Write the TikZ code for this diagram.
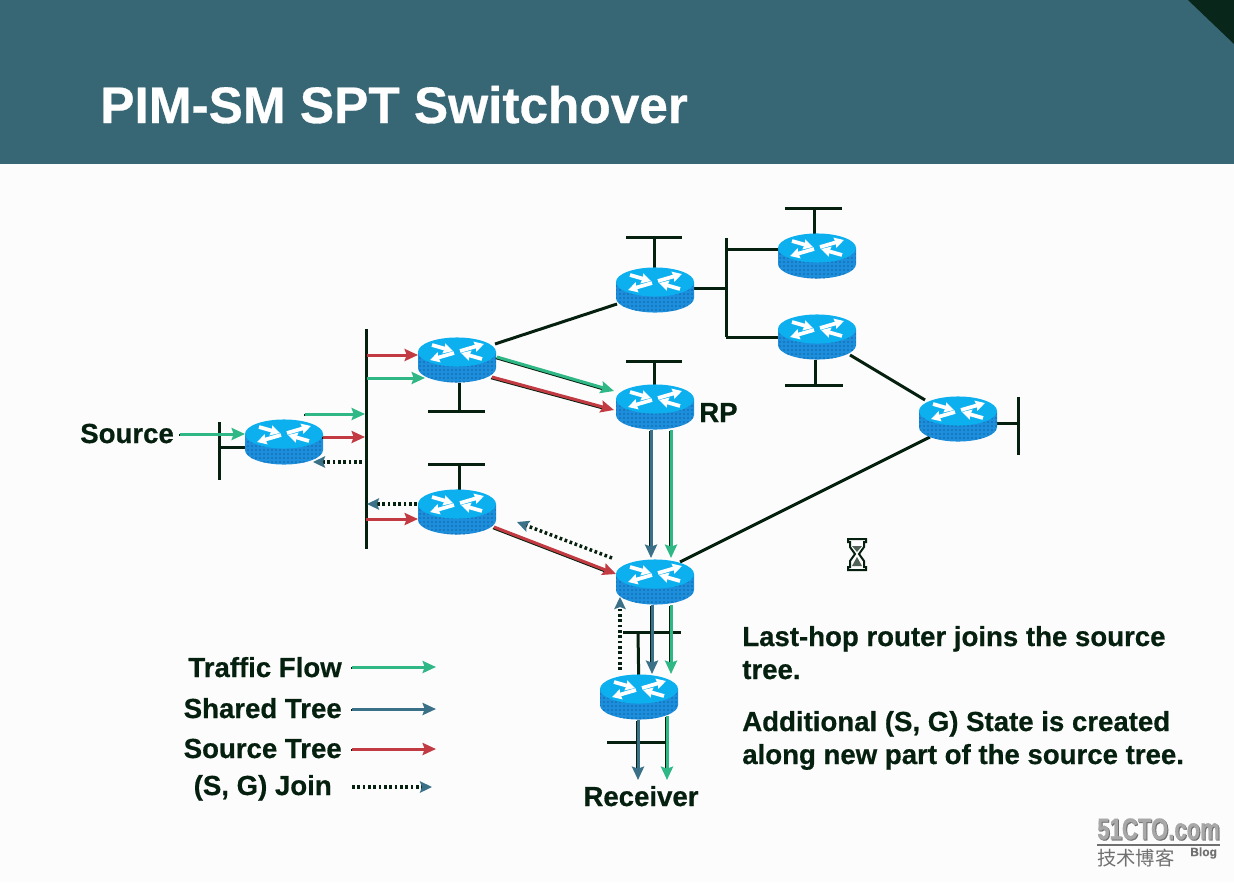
\documentclass[tikz,border=0pt]{standalone}
\usepackage{fontspec}
\setmainfont[BoldFeatures={FakeBold=0.6}]{Liberation Sans}
\newfontfamily\cjkfont{Noto Sans CJK SC}
\usetikzlibrary{arrows.meta,patterns}
\definecolor{hdr}{HTML}{376674}
\definecolor{cornerdk}{HTML}{08271A}
\definecolor{ink}{HTML}{06200F}
\definecolor{topblue}{HTML}{0CB0EE}
\definecolor{bodyblue}{HTML}{1C8EDC}
\definecolor{dotdk}{HTML}{0A3A66}
\definecolor{flowgreen}{HTML}{2FB886}
\definecolor{sharedblue}{HTML}{3A7088}
\definecolor{srcred}{HTML}{C23A42}
\definecolor{wmgray}{HTML}{A8A8A8}
\definecolor{wmdark}{HTML}{707070}
\tikzset{
  x=0.75pt,y=-0.75pt,
  routerbox/.style={minimum width=58.5pt,minimum height=33pt,inner sep=0pt,outer sep=0pt},
  wire/.style={draw=ink,line width=2.25pt},
  tiphead/.style={-{Stealth[length=10pt,width=9pt,inset=1.5pt]}},
  flowarrow/.style={tiphead,draw=#1,line width=2.25pt,
    preaction={draw=ink,line width=1.3pt,-,shorten >=7pt,transform canvas={shift={(-0.8pt,-1pt)}}}},
  joinarrow/.style={draw=ink,line width=2.6pt,dash pattern=on 2pt off 2pt,
    -{Stealth[length=9pt,width=8.5pt,inset=1.5pt,color=sharedblue]}},
  bodylabel/.style={font=\bfseries\fontsize{20.7}{24}\selectfont,text=ink,inner sep=0pt},
  whitearr/.style={draw=white,line width=2.8pt,-{Stealth[length=7pt,width=7.5pt,inset=0.5pt]}},
  router/.pic={
    \fill[bodyblue] (-39,-8) -- (-39,8) arc[start angle=180,end angle=360,x radius=29.25pt,y radius=10.9pt] -- (39,-8) -- cycle;
    \fill[pattern=dots,pattern color=dotdk] (-39,-8) -- (-39,8) arc[start angle=180,end angle=360,x radius=29.25pt,y radius=10.9pt] -- (39,-8) -- cycle;
    \fill[topblue] (0,-8) ellipse[x radius=29.25pt,y radius=10.9pt];
    \draw[whitearr] (-25,-15) -- (-4,-9);
    \draw[whitearr] (3,-9) -- (27,-16);
    \draw[whitearr] (-3,-7) -- (-27,0);
    \draw[whitearr] (25,-1) -- (4,-7);
  }
}
\begin{document}
\begin{tikzpicture}
\useasboundingbox (0,0) rectangle (1234,882);
\fill[white!99!black] (0,0) rectangle (1234,882);
\fill[hdr] (0,0) rectangle (1234,164);
\fill[cornerdk] (1188,0) -- (1234,0) -- (1234,44) -- cycle;
\node[anchor=base west,inner sep=0pt,text=white,font=\bfseries\fontsize{38.5}{44}\selectfont] (title) at (100,123) {PIM-SM SPT Switchover};

% routers
\foreach \n/\px/\py in {rS/284/442,rA/457/360,rB/457/512,rC/655/290,rP/655/407,rL/655/582,rR/639/697,rT/817/256,rU/817/337,rE/958/419}{
  \node[routerbox] (\n) at (\px,\py) {};
}

% coordinates for LAN segments and free ends
\coordinate (busT) at (366,329); \coordinate (busB) at (366,549);
\coordinate (sT) at (219,422); \coordinate (sB) at (219,480); \coordinate (sM) at (219,447);
\coordinate (aS) at (459,383); \coordinate (aJ) at (459,411); \coordinate (aL) at (428,411); \coordinate (aR) at (485,411);
\coordinate (bS) at (459,490); \coordinate (bJ) at (459,464); \coordinate (bL) at (428,464); \coordinate (bR) at (485,464);
\coordinate (cS) at (654,268); \coordinate (cJ) at (654,237); \coordinate (cL) at (626,237); \coordinate (cR) at (682,237);
\coordinate (pS) at (654,385); \coordinate (pJ) at (654,361); \coordinate (pL) at (626,361); \coordinate (pR) at (682,361);
\coordinate (tS) at (814,234); \coordinate (tJ) at (814,208); \coordinate (tL) at (785,208); \coordinate (tR) at (842,208);
\coordinate (uS) at (815,360); \coordinate (uJ) at (815,385); \coordinate (uL) at (785,385); \coordinate (uR) at (843,385);
\coordinate (hT) at (726,238); \coordinate (hB) at (726,337); \coordinate (hC) at (726,288); \coordinate (hM) at (726,249);
\coordinate (eT) at (1018,397); \coordinate (eB) at (1018,455); \coordinate (eM) at (1018,423);
\coordinate (lbL) at (623,632); \coordinate (lbR) at (681,632); \coordinate (lbJ) at (638,632);
\coordinate (rbL) at (607,742); \coordinate (rbR) at (666,742);

% black links and LAN segments
\begin{scope}[wire]
\draw (busT) -- (busB);
\draw (sT) -- (sB);
\draw (sM) -- (rS.west |- sM);
\draw (aS) -- (aJ); \draw (aL) -- (aR);
\draw (bS) -- (bJ); \draw (bL) -- (bR);
\draw (cS) -- (cJ); \draw (cL) -- (cR);
\draw (pS) -- (pJ); \draw (pL) -- (pR);
\draw (tS) -- (tJ); \draw (tL) -- (tR);
\draw (uS) -- (uJ); \draw (uL) -- (uR);
\draw (hT) -- (hB);
\draw (rC.east |- hC) -- (hC);
\draw (hM) -- (rT.west |- hM);
\draw (hB) -- (rU.west |- hB);
\draw (eT) -- (eB);
\draw (rE.east |- eM) -- (eM);
\draw (lbL) -- (lbR);
\draw (lbJ) -- (rR.center);
\draw (rbL) -- (rbR);
\draw ([shift={(38,-16)}]rA.center) -- ([shift={(-38,14)}]rC.center);
\draw ([shift={(33,18)}]rU.center) -- ([shift={(-33,-19)}]rE.center);
\draw ([shift={(-28,18)}]rE.center) -- ([shift={(25,-20)}]rL.center);
\end{scope}

% router icons
\foreach \n in {rS,rA,rB,rC,rP,rL,rR,rT,rU,rE}{ \pic at (\n) {router}; }

% arrows
\coordinate (srcStart) at (180,434);
\node[bodylabel,anchor=base west] (srcL) at (80,443) {Source};
\draw[flowarrow=flowgreen] (srcStart) -- (rS.west |- srcStart);
\coordinate (g1a) at (305,414); \coordinate (g1b) at (365,414);
\draw[flowarrow=flowgreen] (g1a) -- (g1b);
\coordinate (r1a) at (323,437); \coordinate (r1b) at (365,437);
\draw[flowarrow=srcred] (r1a) -- (r1b);
\coordinate (j1a) at (362,462); \coordinate (j1b) at (313,462);
\draw[joinarrow] (j1a) -- (j1b);
\coordinate (r2a) at (367,355); \coordinate (r2b) at (418,355);
\draw[flowarrow=srcred] (r2a) -- (r2b);
\coordinate (g2a) at (367,378); \coordinate (g2b) at (425,378);
\draw[flowarrow=flowgreen] (g2a) -- (g2b);
\coordinate (j2a) at (417,504); \coordinate (j2b) at (367,504);
\draw[joinarrow] (j2a) -- (j2b);
\coordinate (r3a) at (366,519); \coordinate (r3b) at (418,519);
\draw[flowarrow=srcred] (r3a) -- (r3b);
\coordinate (g4a) at (497,357); \coordinate (g4b) at (614,391);
\draw[flowarrow=flowgreen] (g4a) -- (g4b);
\coordinate (r4a) at (492,377); \coordinate (r4b) at (614,410);
\draw[flowarrow=srcred] (r4a) -- (r4b);
\coordinate (r5a) at (494,527); \coordinate (r5b) at (616,574);
\draw[flowarrow=srcred] (r5a) -- (r5b);
\coordinate (j5a) at (612,558); \coordinate (j5b) at (517,522);
\draw[joinarrow] (j5a) -- (j5b);
\coordinate (v1a) at (651,430); \coordinate (v1b) at (651,558);
\draw[flowarrow=sharedblue] (v1a) -- (v1b);
\coordinate (v2a) at (671,430); \coordinate (v2b) at (671,558);
\draw[flowarrow=flowgreen] (v2a) -- (v2b);
\coordinate (v3a) at (652,605); \coordinate (v3b) at (652,674);
\draw[flowarrow=sharedblue] (v3a) -- (v3b);
\coordinate (v4a) at (671,605); \coordinate (v4b) at (671,674);
\draw[flowarrow=flowgreen] (v4a) -- (v4b);
\coordinate (j6a) at (620,670); \coordinate (j6b) at (620,597);
\draw[joinarrow] (j6a) -- (j6b);
\coordinate (v5a) at (638,720); \coordinate (v5b) at (638,780);
\draw[flowarrow=sharedblue] (v5a) -- (v5b);
\coordinate (v6a) at (667,716); \coordinate (v6b) at (667,780);
\draw[flowarrow=flowgreen] (v6a) -- (v6b);

% labels
\node[bodylabel,anchor=base west] (rpL) at (699,422) {RP};
\node[bodylabel,anchor=base] (recvL) at (641,806) {Receiver};
\node[bodylabel,anchor=base east] (leg1) at (342,677) {Traffic Flow};
\node[bodylabel,anchor=base east] (leg2) at (342,718) {Shared Tree};
\node[bodylabel,anchor=base east] (leg3) at (342,758) {Source Tree};
\node[bodylabel,anchor=base east] (leg4) at (332,795) {(S, G) Join};
\coordinate (la1) at (352,667); \coordinate (lb1) at (436,667);
\coordinate (la2) at (352,709); \coordinate (lb2) at (436,709);
\coordinate (la3) at (352,749); \coordinate (lb3) at (436,749);
\coordinate (la4) at (352,787); \coordinate (lb4) at (432,787);
\draw[flowarrow=flowgreen] (la1) -- (lb1);
\draw[flowarrow=sharedblue] (la2) -- (lb2);
\draw[flowarrow=srcred] (la3) -- (lb3);
\draw[joinarrow] (la4) -- (lb4);

\node[bodylabel,anchor=base west] (t1) at (742,646) {Last-hop router joins the source};
\node[bodylabel,anchor=base west] (t2) at (742,679) {tree.};
\node[bodylabel,anchor=base west] (t3) at (742,731) {Additional (S, G) State is created};
\node[bodylabel,anchor=base west] (t4) at (742,764) {along new part of the source tree.};

% hourglass
\draw[draw=ink,line width=1.5pt,fill=white] (848,539) -- (866,539) -- (866,542) -- (864,542) -- (864,547) -- (859,554) -- (864,561) -- (864,567) -- (866,567) -- (866,570) -- (848,570) -- (848,567) -- (850,567) -- (850,561) -- (855,554) -- (850,547) -- (850,542) -- (848,542) -- cycle;
\fill[ink!70] (857,557) -- (862,566) -- (852,566) -- cycle;
\fill[ink!70] (852,546) -- (862,546) -- (857,552) -- cycle;

% watermark
\node[anchor=west,inner sep=0pt,text=wmdark,font=\bfseries\fontsize{21}{24}\selectfont] (wm0) at (1098,830) {\scalebox{0.79}[1.08]{51CTO.com}};
\node[anchor=west,inner sep=0pt,text=wmgray,font=\bfseries\fontsize{21}{24}\selectfont] (wm1) at (1097,829) {\scalebox{0.79}[1.08]{51CTO.com}};
\coordinate (wmA) at (1097,845); \coordinate (wmB) at (1220,845);
\draw[draw=wmdark,line width=1.5pt] (wmA) -- (wmB);
\node[anchor=west,inner sep=0pt,text=wmdark,font=\cjkfont\fontsize{14.5}{16}\selectfont] (wm2) at (1097,858) {技术博客};
\node[anchor=west,inner sep=0pt,text=wmdark,font=\bfseries\fontsize{9}{10}\selectfont] (wm3) at (1190,853) {Blog};
\end{tikzpicture}
\end{document}
